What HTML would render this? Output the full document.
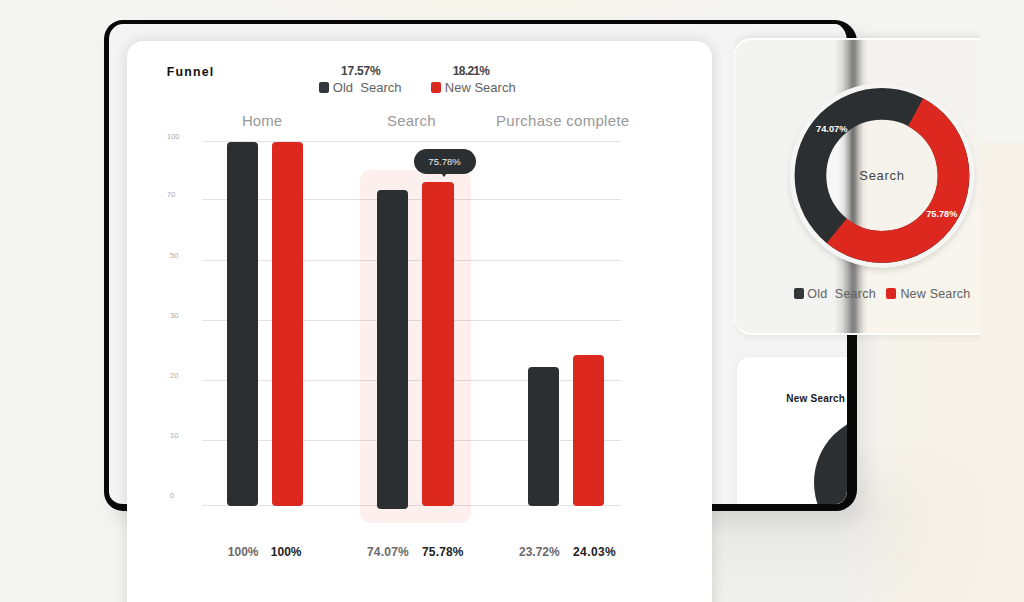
<!DOCTYPE html>
<html><head><meta charset="utf-8">
<style>
*{margin:0;padding:0;box-sizing:border-box}
html,body{width:1024px;height:602px;overflow:hidden}
body{position:relative;font-family:"Liberation Sans",sans-serif;background:#f4f4f3}
.abs{position:absolute}
#bg{left:0;top:0;width:1024px;height:602px;background:radial-gradient(ellipse 260px 36px at 500px 0,rgba(247,243,230,.9),rgba(247,243,230,0)),#f4f4f3}
#bg2{left:857px;top:143px;width:167px;height:459px;background:linear-gradient(90deg,rgba(246,242,231,0) 0,rgba(246,242,231,.75) 40px,#f6f2e7 90px)}
#bg3{left:600px;top:440px;width:424px;height:162px;background:linear-gradient(90deg,rgba(246,242,231,0) 240px,rgba(246,242,231,.85) 340px,#f6f2e7 400px),linear-gradient(180deg,rgba(0,0,0,0) 0,rgba(0,0,0,.05) 70px,rgba(0,0,0,.04) 110px,rgba(0,0,0,.02) 162px)}
#tablet{left:104px;top:20px;width:752.6px;height:490.5px;border-style:solid;border-color:#080808;border-width:4.7px 10.2px 7.4px 5px;border-radius:19px 22px 21px 19px;background:#f4f4f4;overflow:hidden;box-shadow:8px 12px 20px rgba(0,0,0,.08)}
#main{left:127px;top:40.5px;width:585.3px;height:600px;background:#fff;border-radius:16px;box-shadow:0 0 14px rgba(0,0,0,.13)}
#br{left:627.5px;top:333.3px;width:140px;height:170px;background:#fff;border-radius:13px 0 0 0;overflow:hidden;box-shadow:0 0 10px rgba(0,0,0,.05)}
#glass{left:733.5px;top:38.3px;width:246.3px;height:296.5px;border-radius:17px 0 0 17px;overflow:hidden;background:#f4f4f3}
#gsh{left:733.5px;top:27px;width:246.3px;height:316px;overflow:hidden}
#gsh div{position:absolute;left:0;top:11.3px;width:270px;height:296.5px;border-radius:17px 0 0 17px;box-shadow:0 -3px 6px rgba(0,0,0,.07),0 3px 5px rgba(0,0,0,.05)}
.t{position:absolute;white-space:nowrap;line-height:1}
.grid{position:absolute;left:202px;width:418.5px;height:1px;background:rgba(0,0,0,.115)}
.ax{position:absolute;font-size:7.5px;color:#aaa;left:167px;line-height:1}
.bar{position:absolute;width:31.4px;border-radius:4px}
.d{background:#2c2f31}.r{background:#dc281e}
</style></head><body>
<div id="bg" class="abs"></div><div id="bg2" class="abs"></div><div id="bg3" class="abs"></div>
<div id="tablet" class="abs"><div id="br" class="abs">
  <div class="t" style="left:49.8px;top:36.7px;font-size:10px;font-weight:bold;letter-spacing:.22px;color:#1a1a1a">New Search</div>
  <div class="abs" style="left:77px;top:57.5px;width:135.6px;height:135.6px;border-radius:50%;background:#2c2f31"></div>
</div></div>
<div id="main" class="abs"></div>

<div class="t" style="left:166.8px;top:66.2px;font-size:12.3px;font-weight:bold;letter-spacing:1.2px;color:#111">Funnel</div>
<div class="t" style="left:341px;top:64.5px;font-size:12px;font-weight:bold;letter-spacing:-.2px;color:#444">17.57%</div>
<div class="t" style="left:452.8px;top:64.5px;font-size:12px;font-weight:bold;letter-spacing:-.7px;color:#444">18.21%</div>
<div class="abs d" style="left:319px;top:82px;width:10px;height:11px;border-radius:2px;background:#34373a"></div>
<div class="t" style="left:332.8px;top:80.5px;font-size:13px;color:#626262">Old&nbsp; Search</div>
<div class="abs r" style="left:431px;top:82px;width:10px;height:11px;border-radius:2px"></div>
<div class="t" style="left:444.8px;top:80.5px;font-size:13px;color:#626262">New Search</div>

<div class="t" style="left:242px;top:113px;font-size:15px;color:#999">Home</div>
<div class="t" style="left:387px;top:113px;font-size:15px;letter-spacing:.2px;color:#999">Search</div>
<div class="t" style="left:496px;top:113px;font-size:15px;letter-spacing:.3px;color:#999">Purchase complete</div>

<div class="abs" style="left:360px;top:170px;width:111.3px;height:352.5px;border-radius:11px;background:#fdefed"></div>
<div class="grid" style="top:141px"></div>
<div class="grid" style="top:199px"></div>
<div class="grid" style="top:260px"></div>
<div class="grid" style="top:320px"></div>
<div class="grid" style="top:380px"></div>
<div class="grid" style="top:440px"></div>
<div class="grid" style="top:505px"></div>
<div class="ax" style="top:133px">100</div>
<div class="ax" style="top:191px">70</div>
<div class="ax" style="top:252px;left:170px">50</div>
<div class="ax" style="top:312px;left:170px">30</div>
<div class="ax" style="top:372px;left:170px">20</div>
<div class="ax" style="top:432px;left:170px">10</div>
<div class="ax" style="top:492px;left:170px">0</div>


<div class="bar d" style="left:226.8px;top:141.8px;height:364px"></div>
<div class="bar r" style="left:271.8px;top:141.8px;height:364px"></div>
<div class="bar d" style="left:376.9px;top:189.5px;height:319.5px"></div>
<div class="bar r" style="left:422.2px;top:182.2px;height:324px"></div>
<div class="bar d" style="left:527.7px;top:367px;height:139px"></div>
<div class="bar r" style="left:572.9px;top:355px;height:151px"></div>

<div class="abs" style="left:414px;top:149px;width:61.5px;height:24.5px;border-radius:13px;background:#2c2f31"></div>
<div class="abs" style="left:441px;top:173px;width:0;height:0;border-left:3.5px solid transparent;border-right:3.5px solid transparent;border-top:4px solid #2c2f31"></div>
<div class="t" style="left:428.3px;top:156.8px;font-size:9.6px;color:#eee">75.78%</div>

<div class="t" style="left:227.8px;top:545.7px;font-size:12px;font-weight:bold;color:#6a6a6a">100%</div>
<div class="t" style="left:270.8px;top:545.7px;font-size:12px;font-weight:bold;color:#222">100%</div>
<div class="t" style="left:367px;top:545.7px;font-size:12px;font-weight:bold;letter-spacing:.2px;color:#6a6a6a">74.07%</div>
<div class="t" style="left:422px;top:545.7px;font-size:12px;font-weight:bold;letter-spacing:.15px;color:#222">75.78%</div>
<div class="t" style="left:519px;top:545.7px;font-size:12px;font-weight:bold;color:#6a6a6a">23.72%</div>
<div class="t" style="left:573px;top:545.7px;font-size:12px;font-weight:bold;letter-spacing:.4px;color:#222">24.03%</div>

<div id="gsh" class="abs"><div></div></div>
<div id="glass" class="abs">
  <div class="abs" style="left:0;top:0;width:247px;height:297px;background:linear-gradient(90deg,#f3f3f2 0,#f3f3f2 117px,rgba(243,243,242,0) 124px),linear-gradient(180deg,#f4f3f0 0,#f4f3f0 80px,#f6f4ec 135px,#f7f5ec 297px)"></div>
  <div class="abs" style="left:100px;top:0;width:34px;height:297px;background:linear-gradient(90deg,rgba(120,120,120,0) 0,rgba(125,125,125,.2) 8px,rgba(120,120,120,.55) 13.5px,rgba(115,115,115,.88) 18px,rgba(115,115,115,.85) 21px,rgba(128,128,128,.5) 25px,rgba(145,145,145,.2) 29px,rgba(150,150,150,0) 34px)"></div>
  <div class="abs" style="left:0;top:0;width:270px;height:296.5px;border-radius:17px 0 0 17px;box-shadow:inset 1px 2px 0 rgba(255,255,255,.95),inset 0 -2px 0 rgba(255,255,255,.95)"></div>
</div>
<svg class="abs" style="left:733px;top:38px" width="247" height="296" viewBox="733 38 247 296">
  <defs><filter id="sh" x="-20%" y="-20%" width="140%" height="140%"><feGaussianBlur stdDeviation="3.5"/></filter>
  <clipPath id="hole"><circle cx="882" cy="175.4" r="56.5"/></clipPath>
  <linearGradient id="strip" gradientUnits="userSpaceOnUse" x1="838" y1="0" x2="868" y2="0">
   <stop offset="0" stop-color="#f7f7f7"/><stop offset=".2" stop-color="#e2e2e1"/><stop offset=".36" stop-color="#a9a9a8"/><stop offset=".47" stop-color="#737373"/><stop offset=".55" stop-color="#807f7d"/><stop offset=".7" stop-color="#c4c2bc"/><stop offset=".85" stop-color="#ebe9e1"/><stop offset="1" stop-color="#f5f3eb"/>
  </linearGradient></defs>
  <circle cx="882" cy="178.4" r="91" fill="rgba(0,0,0,.16)" filter="url(#sh)"/>
  <circle cx="882" cy="175.4" r="92.5" fill="#f5f5f3"/>
  <g clip-path="url(#hole)"><rect x="820" y="115" width="20" height="122" fill="#f7f7f7"/><rect x="838" y="115" width="30" height="122" fill="url(#strip)"/><rect x="868" y="115" width="75" height="122" fill="#f5f3eb"/></g>
  <circle cx="882" cy="175.4" r="71.55" fill="none" stroke="#2c2f31" stroke-width="31.7"/>
  <path d="M915.6 112.2A71.55 71.55 0 1 1 836.7 230.8" fill="none" stroke="#dc281e" stroke-width="31.7"/>
</svg>
<div class="t" style="left:816px;top:125px;font-size:9.3px;font-weight:bold;color:#fff">74.07%</div>
<div class="t" style="left:926.2px;top:209.5px;font-size:9.2px;font-weight:bold;color:#fff">75.78%</div>
<div class="t" style="left:859.3px;top:169px;font-size:13px;letter-spacing:.7px;color:#444">Search</div>
<div class="abs" style="left:794px;top:288px;width:10px;height:11px;border-radius:2px;background:#34373a"></div>
<div class="t" style="left:807.2px;top:287.5px;font-size:12.5px;letter-spacing:.25px;color:#626262">Old&nbsp; Search</div>
<div class="abs r" style="left:886px;top:288px;width:10px;height:11px;border-radius:2px"></div>
<div class="t" style="left:900.4px;top:287.5px;font-size:12.5px;letter-spacing:.2px;color:#626262">New Search</div>
</body></html>
